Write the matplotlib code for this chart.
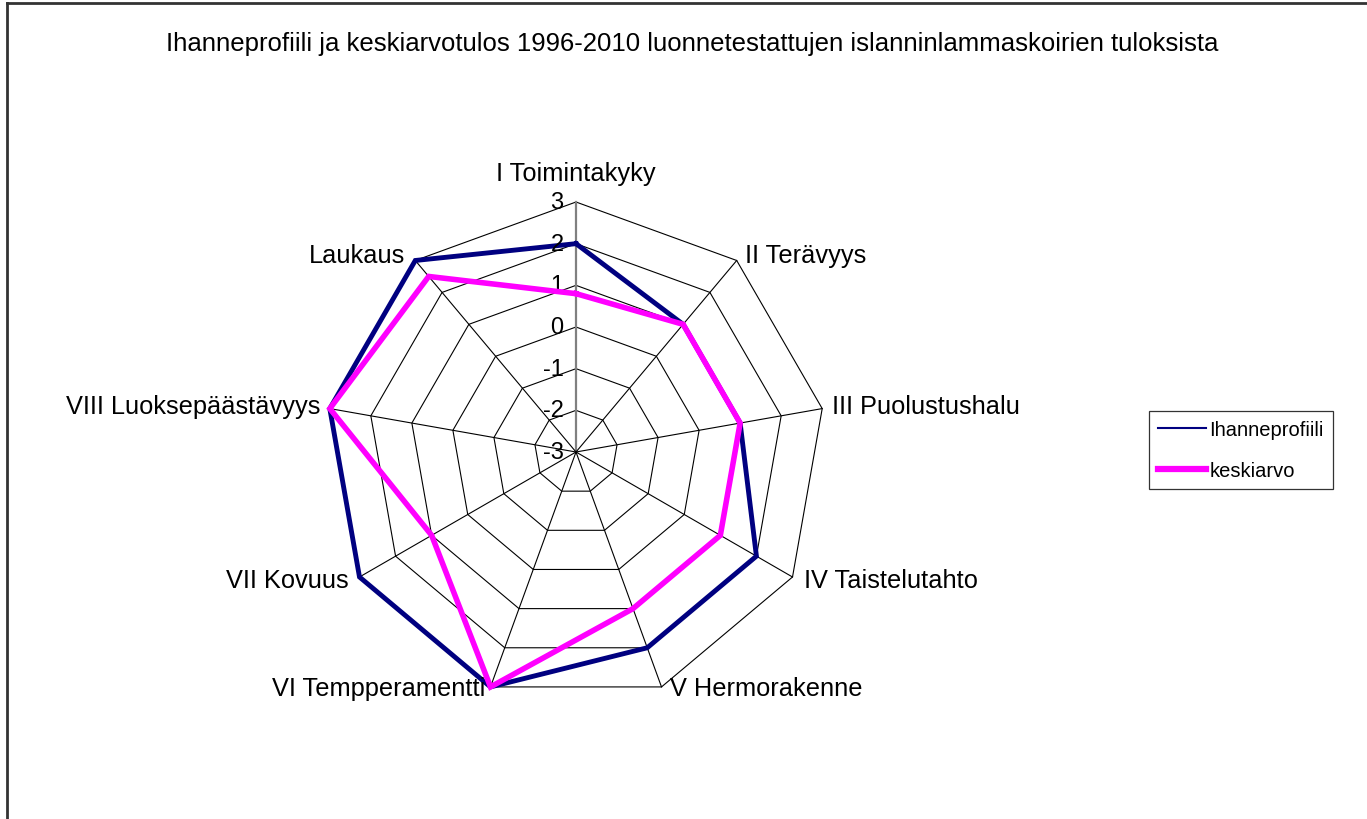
import numpy as np
import matplotlib
matplotlib.use('Agg')
import matplotlib.pyplot as plt
from matplotlib.lines import Line2D

plt.rcParams['font.family'] = ['Liberation Sans', 'DejaVu Sans']

title = 'Ihanneprofiili ja keskiarvotulos 1996-2010 luonnetestattujen islanninlammaskoirien tuloksista'
categories = ['I Toimintakyky', 'II Terävyys', 'III Puolustushalu', 'IV Taistelutahto',
              'V Hermorakenne', 'VI Tempperamentti', 'VII Kovuus',
              'VIII Luoksepäästävyys', 'Laukaus']
ihanneprofiili = [2, 1, 1, 2, 2, 3, 3, 3, 3]
keskiarvo = [0.8, 1, 1, 1, 1, 3, 1, 3, 2.5]
ticks = [-3, -2, -1, 0, 1, 2, 3]
rmin, rmax = -3, 3

n = len(categories)
theta = np.arange(n) * 2 * np.pi / n


def to_xy(values):
    r = np.asarray(values, dtype=float) - rmin
    return r * np.sin(theta), r * np.cos(theta)


def closed(a):
    return np.append(a, a[0])


W, H = 1367, 820
fig = plt.figure(figsize=(W / 100, H / 100), dpi=100)
ax = fig.add_axes([0, 0, 1, 1])
ax.set_axis_off()

# pikselit -> data: keskipiste (576, 453), 250 px = 6 yksikköä
cx, cy, scale = 576, 453, 250 / (rmax - rmin)
ax.set_xlim(-cx / scale, (W - cx) / scale)
ax.set_ylim(-(H - cy) / scale, cy / scale)

# ruudukko
for t in ticks[1:]:
    gx, gy = to_xy([t] * n)
    ax.plot(closed(gx), closed(gy), color='black', lw=0.8, zorder=1)
ex, ey = to_xy([rmax] * n)
for i in range(n):
    ax.plot([0, ex[i]], [0, ey[i]], color='#808080' if i == 0 else 'black',
            lw=1.6 if i == 0 else 0.8, zorder=1)

# sarjat
ix, iy = to_xy(ihanneprofiili)
ax.plot(closed(ix), closed(iy), color='#000080', lw=3.5, zorder=3,
        solid_joinstyle='miter')
kx, ky = to_xy(keskiarvo)
ax.plot(closed(kx), closed(ky), color='#FF00FF', lw=4.0, zorder=4,
        solid_joinstyle='miter')

# asteikon luvut
for t in ticks:
    ax.annotate(str(t), (0, t - rmin), xytext=(-9, 0), textcoords='offset points',
                ha='right', va='center', fontsize=17)

# kategoriat
offsets = [(0, 21), (6, 4), (7, 2), (8, -2), (6, -1), (-4, -1), (-8, -2), (-7, 2), (-7, 4)]
for i, lab in enumerate(categories):
    dx, dy = offsets[i]
    ha = 'center' if i == 0 else ('left' if np.sin(theta[i]) > 0 else 'right')
    ax.annotate(lab, (ex[i], ey[i]), xytext=(dx, dy), textcoords='offset points',
                ha=ha, va='center', fontsize=18.3)

fig.text(692 / W, 1 - 44 / H, title, ha='center', va='center', fontsize=18.5)

handles = [Line2D([], [], color='#000080', lw=1.5),
           Line2D([], [], color='#FF00FF', lw=4.5)]
leg = fig.legend(handles, ['Ihanneprofiili', 'keskiarvo'], loc='center left',
                 bbox_to_anchor=(1149 / W, 1 - 451 / H), fontsize=14.5, frameon=True,
                 fancybox=False, edgecolor='black', handlelength=2.4,
                 handletextpad=0.15, borderpad=0.45, labelspacing=1.1,
                 borderaxespad=0)
leg.get_frame().set_linewidth(0.9)

# kehys
fig.add_artist(Line2D([7 / W, 7 / W], [0, 1 - 4 / H], color='#333333', lw=2))
fig.add_artist(Line2D([7 / W, 1], [1 - 4 / H, 1 - 4 / H], color='#333333', lw=2))

fig.savefig('out.png', dpi=100)
